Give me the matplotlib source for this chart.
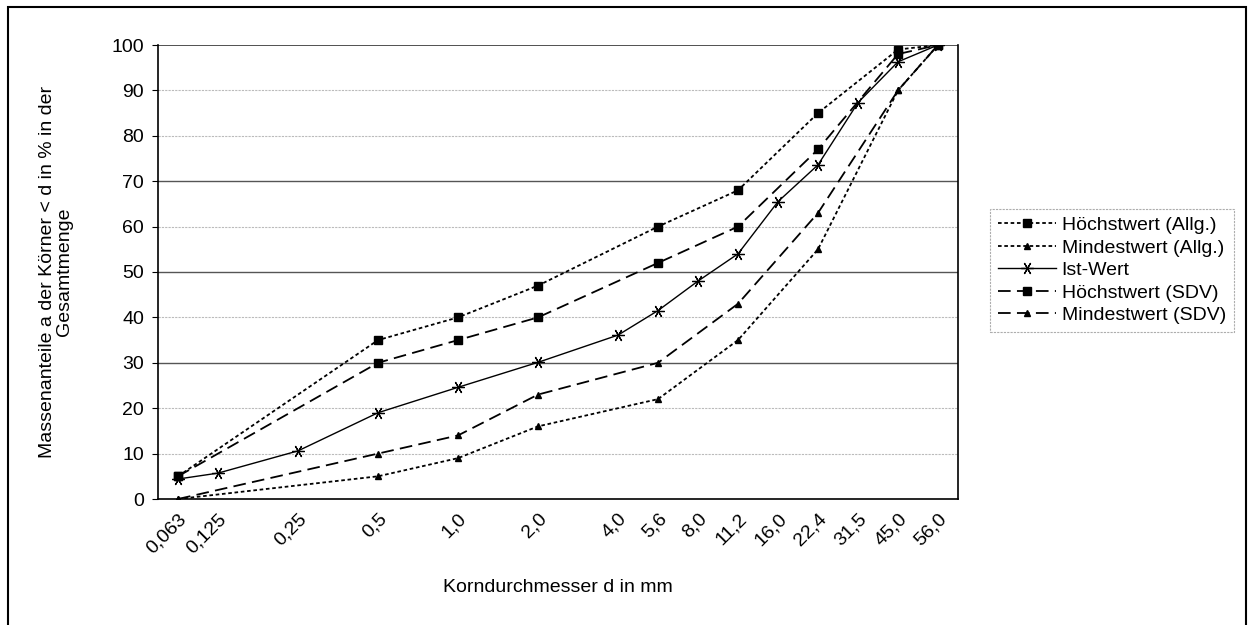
import numpy as np
import matplotlib.pyplot as plt
from matplotlib.patches import Rectangle

plt.rcParams['font.family'] = ['Liberation Sans', 'DejaVu Sans']

# Kategorien der x-Achse (Excel-Liniendiagramm, leere Kategorien dazwischen)
kategorien = ['0,063', '0,125', '', '0,25', '', '0,5', '', '1,0', '', '2,0', '',
              '4,0', '5,6', '8,0', '11,2', '16,0', '22,4', '31,5', '45,0', '56,0']

# Werte je Reihe: (Kategorie, Durchgang in %)
hoechst_allg_kat = ['0,063', '0,5', '1,0', '2,0', '5,6', '11,2', '22,4', '45,0', '56,0']
hoechst_allg = [5, 35, 40, 47, 60, 68, 85, 99, 100]

mindest_allg_kat = ['0,063', '0,5', '1,0', '2,0', '5,6', '11,2', '22,4', '45,0', '56,0']
mindest_allg = [0, 5, 9, 16, 22, 35, 55, 90, 100]

ist_kat = ['0,063', '0,125', '0,25', '0,5', '1,0', '2,0', '4,0', '5,6', '8,0',
           '11,2', '16,0', '22,4', '31,5', '45,0', '56,0']
ist_wert = [4.4, 5.7, 10.6, 19, 24.6, 30.1, 36.1, 41.5, 48, 54, 65.5, 73.6, 87.3, 96.3, 100]

hoechst_sdv_kat = ['0,063', '0,5', '1,0', '2,0', '5,6', '11,2', '22,4', '45,0', '56,0']
hoechst_sdv = [5, 30, 35, 40, 52, 60, 77, 98, 100]

mindest_sdv_kat = ['0,063', '0,5', '1,0', '2,0', '5,6', '11,2', '22,4', '45,0', '56,0']
mindest_sdv = [0, 10, 14, 23, 30, 43, 63, 90, 100]


def pos(kat_liste):
    return [kategorien.index(k) for k in kat_liste]


fig = plt.figure(figsize=(12.48, 6.25), dpi=100)
ax = fig.add_axes([158 / 1248, 1 - 499 / 625, 800 / 1248, 454 / 625])

# Rahmen um das ganze Diagramm
fig.patches.append(Rectangle((8 / 1248, -0.05), 1238 / 1248, 1.05 - 7 / 625,
                             transform=fig.transFigure, fill=False,
                             edgecolor='black', linewidth=1.5))

# Gitterlinien
for y in range(10, 100, 10):
    if y in (30, 50, 70):
        ax.axhline(y, color='#555555', linewidth=1.0, zorder=0)
    else:
        ax.axhline(y, color='#bbbbbb', linewidth=0.8, linestyle=(0, (2, 1)), zorder=0)
ax.axhline(100, color='#333333', linewidth=1.2, zorder=0)

kurz = (0, (2, 1.5))
lang = (0, (7, 3.5))
stern = (6, 2, 30)

ax.plot(pos(hoechst_allg_kat), hoechst_allg, color='black', linestyle=kurz, linewidth=1.3,
        marker='s', markersize=6, label='Höchstwert (Allg.)')
ax.plot(pos(mindest_allg_kat), mindest_allg, color='black', linestyle=kurz, linewidth=1.3,
        marker='^', markersize=5, label='Mindestwert (Allg.)')
ax.plot(pos(ist_kat), ist_wert, color='black', linestyle='-', linewidth=1.0,
        marker=stern, markersize=9, markeredgewidth=0.9, label='Ist-Wert')
ax.plot(pos(hoechst_sdv_kat), hoechst_sdv, color='black', linestyle=lang, linewidth=1.3,
        marker='s', markersize=6, label='Höchstwert (SDV)')
ax.plot(pos(mindest_sdv_kat), mindest_sdv, color='black', linestyle=lang, linewidth=1.3,
        marker='^', markersize=5, label='Mindestwert (SDV)')

ax.set_xlim(-0.5, len(kategorien) - 0.5)
ax.set_ylim(0, 100)
ax.set_yticks(range(0, 101, 10))
ax.tick_params(axis='y', labelsize=14, length=4, pad=6)

tick_pos = [i for i, k in enumerate(kategorien) if k]
ax.set_xticks(tick_pos)
ax.set_xticklabels([k for k in kategorien if k], rotation=45, ha='right',
                   rotation_mode='anchor', fontsize=14)
ax.tick_params(axis='x', length=0, pad=8)

for s in ax.spines.values():
    s.set_color('black')
    s.set_linewidth(1.2)
ax.spines['top'].set_visible(False)

ax.set_xlabel('Korndurchmesser d in mm', fontsize=14, labelpad=16)
ax.set_ylabel('Massenanteile a der Körner < d in % in der\nGesamtmenge', fontsize=14,
              labelpad=28, linespacing=1.0)

leg = ax.legend(loc='upper left', bbox_to_anchor=(980 / 1248, 1 - 199 / 625),
                bbox_transform=fig.transFigure, fontsize=14, handlelength=3.0,
                frameon=True, fancybox=False, borderpad=0.4, labelspacing=0.25,
                handletextpad=0.3)
leg.get_frame().set_edgecolor('#999999')
leg.get_frame().set_linewidth(0.8)
leg.get_frame().set_linestyle((0, (2, 1)))

fig.savefig('out.png', dpi=100)
